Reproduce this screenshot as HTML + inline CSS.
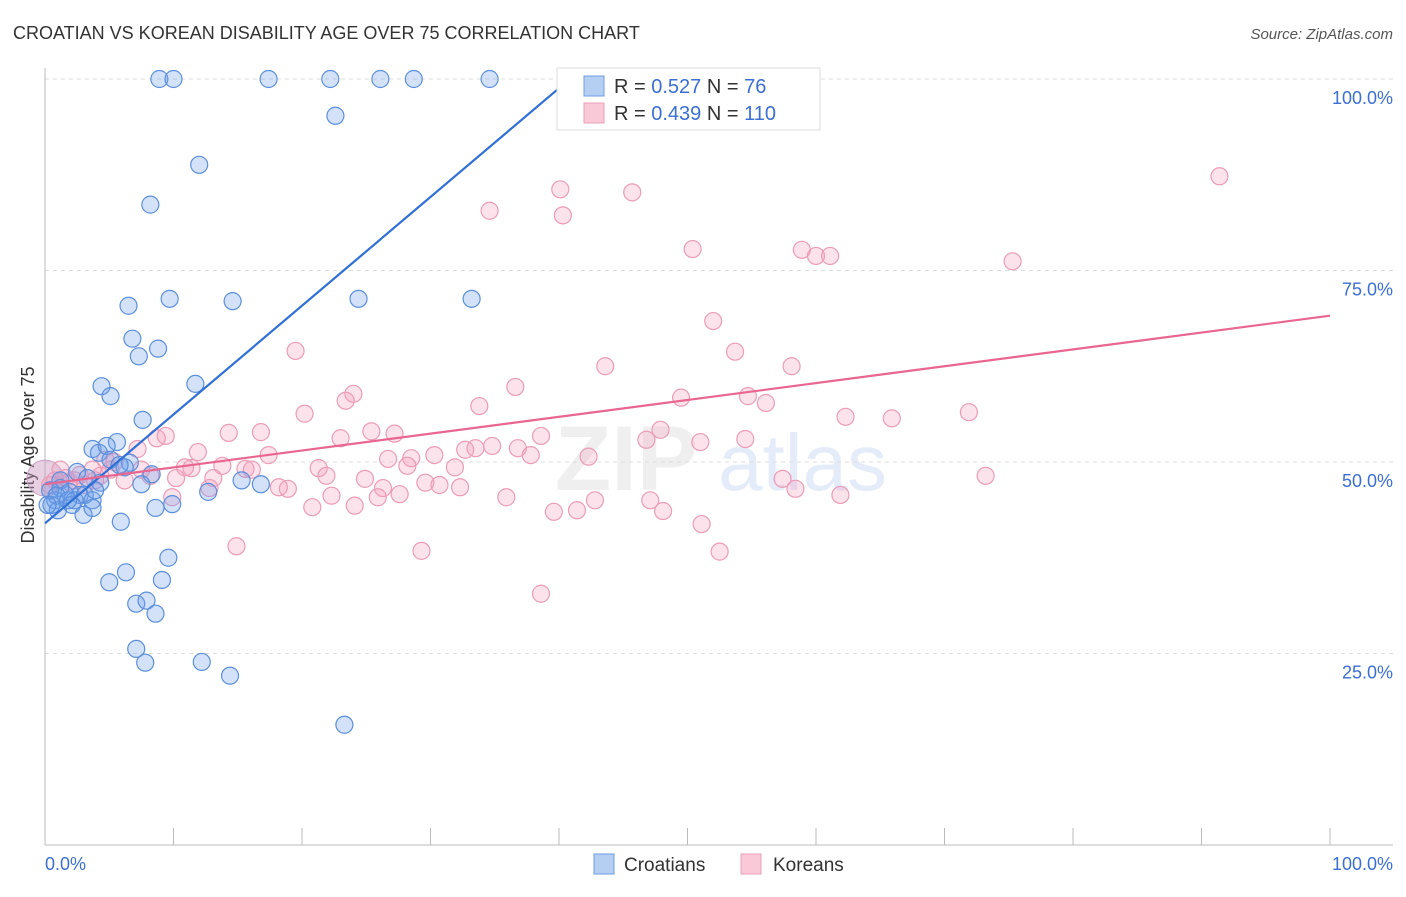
<!DOCTYPE html>
<html><head><meta charset="utf-8"><style>
body{margin:0;background:#fff;font-family:"Liberation Sans",sans-serif}
svg text{font-family:"Liberation Sans",sans-serif}
</style></head><body>
<svg id="chart" width="1406" height="892" viewBox="0 0 1406 892" xmlns="http://www.w3.org/2000/svg">
<text x="13" y="39" font-size="18" fill="#333">CROATIAN VS KOREAN DISABILITY AGE OVER 75 CORRELATION CHART</text>
<text x="1393" y="39" font-size="15" fill="#555" font-style="italic" text-anchor="end">Source: ZipAtlas.com</text>
<g opacity="0.13">
<text x="555" y="490" font-size="92" font-weight="bold" fill="#888">ZIP</text>
<text x="718" y="490" font-size="80" fill="#3b6fd4">atlas</text>
</g>
<g id="grid"></g>
<g id="axes">
<line x1="45" y1="68" x2="45" y2="845" stroke="#bbb"/>
<line x1="45" y1="845" x2="1393" y2="845" stroke="#bbb"/>
</g>
<text transform="translate(34,455) rotate(-90)" font-size="18" fill="#333" text-anchor="middle">Disability Age Over 75</text>
<text x="45" y="870" font-size="18" fill="#3b6fd4">0.0%</text>
<text x="1393" y="870" font-size="18" fill="#3b6fd4" text-anchor="end">100.0%</text>
<g id="pts"></g>
<g id="lines"></g>
<g>
<rect x="557" y="68" width="263" height="62" fill="#fff" stroke="#ddd"/>
<rect x="584" y="76" width="20" height="20" fill="#b5cff3" stroke="#6f9ee3"/>
<rect x="584" y="103" width="20" height="20" fill="#f9c9d8" stroke="#ec9fb8"/>
<text x="614" y="93" font-size="20" fill="#333">R = <tspan fill="#3b6fd4">0.527</tspan>   N =  <tspan fill="#3b6fd4"> 76</tspan></text>
<text x="614" y="120" font-size="20" fill="#333">R = <tspan fill="#3b6fd4">0.439</tspan>   N = <tspan fill="#3b6fd4">110</tspan></text>
</g>
<g>
<rect x="594" y="854" width="20" height="20" fill="#b5cff3" stroke="#6f9ee3"/>
<text x="624" y="871" font-size="19" fill="#333">Croatians</text>
</g>
<g>
<rect x="741" y="854" width="20" height="20" fill="#f9c9d8" stroke="#ec9fb8"/>
<text x="773" y="871" font-size="19" fill="#333">Koreans</text>
</g>
</svg>
<script>
const yTicks=[25,50,75,100];
const yTickLabels=["25.0%","50.0%","75.0%","100.0%"];
const xTicks=[0,10,20,30,40,50,60,70,80,90,100];
const croatianX=[8.9,10.0,17.4,22.2,26.1,28.7,34.6,22.6,12.0,8.2,6.5,9.7,14.6,24.4,33.2,6.8,7.3,8.8,11.7,4.4,5.1,7.6,3.7,4.2,5.6,4.8,5.1,6.6,6.2,8.3,7.5,2.5,3.3,4.3,1.2,1.6,1.9,2.7,0.8,0.5,1.0,2.1,2.3,3.1,3.7,3.0,3.7,1.2,0.4,0.9,8.6,9.9,12.7,15.3,16.8,5.9,6.3,5.0,9.6,9.1,7.1,7.9,8.6,7.1,7.8,12.2,14.4,23.3,0.2,1.8,3.9,5.8];
const croatianY=[100,100,100,100,100,100,100,95.2,88.8,83.6,70.4,71.3,71.0,71.3,71.3,66.1,63.8,64.8,60.2,59.9,58.6,55.5,51.7,51.2,52.6,52.1,50.3,49.9,49.3,48.4,47.1,48.7,47.9,47.3,47.6,45.7,46.1,45.7,45.0,44.4,43.7,44.4,45.0,45.7,45.0,43.1,44.0,46.6,46.3,45.6,44.0,44.5,46.1,47.6,47.1,42.2,35.6,34.3,37.5,34.6,31.5,31.9,30.2,25.6,23.8,23.9,22.1,15.7,44.4,45.0,46.3,49.6];
const koreanX=[91.4,40.1,45.7,34.6,40.3,50.4,58.9,60.0,61.1,75.3,52.0,19.5,53.7,43.6,58.1,36.6,24.0,23.4,54.7,56.1,20.2,33.8,49.5,62.3,65.9,71.9,8.7,9.4,14.3,16.8,23.0,25.4,27.2,38.6,47.9,54.5,46.8,51.0,34.8,36.8,32.7,33.5,37.8,42.3,26.7,28.5,30.3,28.2,31.9,21.3,11.9,7.2,5.4,4.7,11.4,10.9,13.8,15.6,16.1,17.4,21.9,24.9,26.3,29.6,30.7,32.3,18.2,18.9,10.2,13.1,12.8,7.5,8.2,4.3,3.7,2.3,1.6,0.8,0.4,9.9,20.8,22.3,24.1,25.9,27.6,35.9,39.6,41.4,42.8,47.1,48.1,51.1,57.4,58.4,61.9,73.2,14.9,29.3,52.5,38.6,3.1,5.1,6.2,1.2,1.9,2.7,3.9];
const koreanY=[87.3,85.6,85.2,82.8,82.2,77.8,77.7,76.9,76.9,76.2,68.4,64.5,64.4,62.5,62.5,59.8,58.9,58.0,58.6,57.7,56.3,57.3,58.4,55.9,55.7,56.5,53.1,53.4,53.8,53.9,53.1,54.0,53.7,53.4,54.2,53.0,52.9,52.6,52.1,51.8,51.6,51.8,50.9,50.7,50.4,50.5,50.9,49.5,49.3,49.2,51.3,51.7,50.0,50.3,49.2,49.3,49.5,49.1,49.0,50.9,48.2,47.8,46.6,47.3,47.0,46.7,46.7,46.5,47.9,47.9,46.6,49.0,48.2,48.2,49.0,47.6,47.9,47.6,47.0,45.4,44.1,45.6,44.3,45.4,45.8,45.4,43.5,43.7,45.0,45.0,43.6,41.9,47.8,46.5,45.7,48.2,39.0,38.4,38.3,32.8,47.0,49.0,47.6,49.0,47.4,48.3,47.6];
const trendIntercepts=[42.0,47.1];
const trendSlopes=[1.42,0.22];
const NS="http://www.w3.org/2000/svg";
function xs(v){return 45+v*12.85;}
function ys(v){return 845-v*7.66;}
function mk(tag,attrs,parent){const e=document.createElementNS(NS,tag);for(const k in attrs)e.setAttribute(k,attrs[k]);parent.appendChild(e);return e;}
const grid=document.getElementById('grid');
yTicks.forEach((t,i)=>{
 const l=mk('line',{x1:45,x2:1393,y1:ys(t),y2:ys(t),stroke:'#ddd','stroke-dasharray':'4,4'},grid);
 
 
 const tx=mk('text',{x:1393,y:ys(t)+25,'font-size':18,fill:'#3b6fd4','text-anchor':'end'},grid);
 tx.textContent=yTickLabels[i];
 
 
});
xTicks.forEach(t=>{
 const l=mk('line',{x1:xs(t),x2:xs(t),y1:828,y2:845,stroke:'#bbb'},grid);
 
 
});
const pts=document.getElementById('pts');
const big=mk('circle',{cx:xs(0),cy:ys(47.9),r:18,fill:'rgba(200,150,190,0.45)',stroke:'#c9a0c6'},pts);


koreanX.forEach((x,i)=>{
 const c=mk('circle',{cx:xs(x),cy:ys(koreanY[i]),r:8.5,fill:'rgba(244,160,188,0.3)',stroke:'#eb9cb7','stroke-width':1.2},pts);
 
 
});
croatianX.forEach((x,i)=>{
 const c=mk('circle',{cx:xs(x),cy:ys(croatianY[i]),r:8.5,fill:'rgba(110,160,235,0.3)',stroke:'#5b8fdc','stroke-width':1.2},pts);
 
 
});
const lines=document.getElementById('lines');
const blueEnd=(99.6-trendIntercepts[0])/trendSlopes[0];
const bl=mk('line',{x1:xs(0),y1:ys(trendIntercepts[0]),x2:xs(blueEnd),y2:ys(trendIntercepts[0]+trendSlopes[0]*blueEnd),stroke:'#2f6fd6','stroke-width':2.2},lines);


const pl=mk('line',{x1:xs(0),y1:ys(trendIntercepts[1]),x2:xs(100),y2:ys(trendIntercepts[1]+trendSlopes[1]*100),stroke:'#e8668f','stroke-width':2.2},lines);


</script>
</body></html>
